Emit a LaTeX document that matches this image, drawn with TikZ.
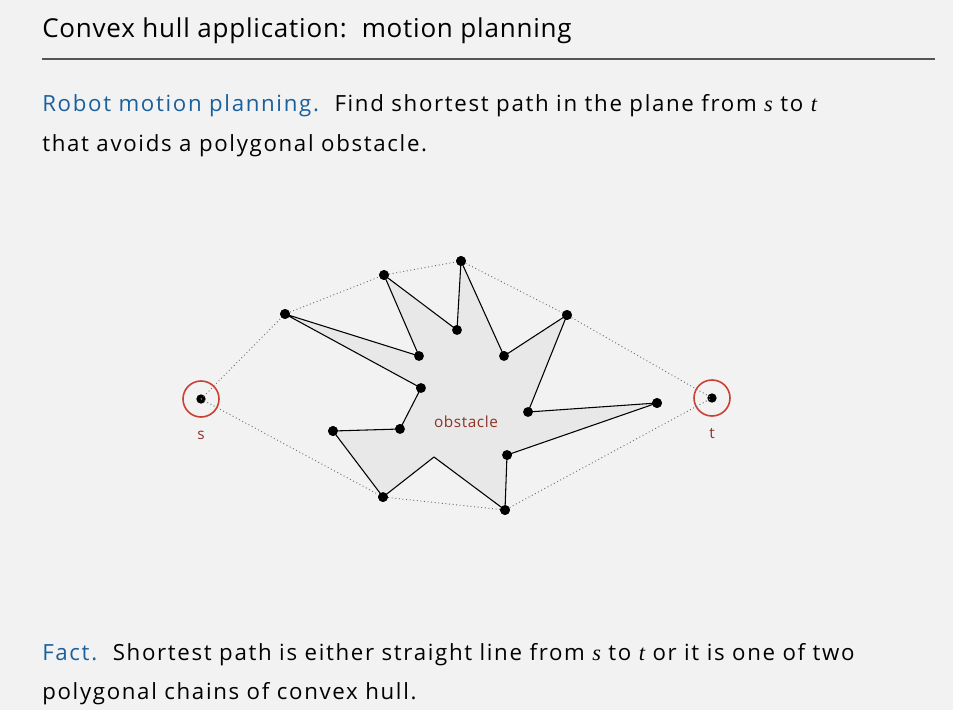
\documentclass[tikz,border=0pt]{standalone}
\usepackage{fontspec}
\setmainfont{Open Sans}[LetterSpace=7.5]
\newfontfamily\titlefont{Open Sans}[LetterSpace=3]
\newfontfamily\labelfont{Open Sans}[LetterSpace=4]
\newfontfamily\mathital{Liberation Serif}
\usetikzlibrary{positioning}
\definecolor{bggray}{RGB}{242,242,242}
\definecolor{obsfill}{RGB}{232,232,232}
\definecolor{keyblue}{RGB}{24,96,158}
\definecolor{labelred}{RGB}{140,52,40}
\definecolor{ringred}{RGB}{204,64,52}
\definecolor{rulegray}{RGB}{85,85,85}
\definecolor{hullgray}{RGB}{110,110,110}
\newcommand{\vs}{{\mathital\itshape s}}
\newcommand{\vt}{{\mathital\itshape t}}
\newcommand{\gap}{\hspace{0.7em}}
\tikzset{
vertex/.style={circle,fill=black,inner sep=0pt,minimum size=7.4pt},
endpt/.style={circle,draw=ringred,line width=1.2pt,inner sep=0pt,minimum size=27pt},
edge/.style={draw=black,line width=0.8pt,line join=round},
hull/.style={draw=hullgray,dotted,line width=0.7pt},
ptlabel/.style={font=\labelfont\fontsize{11.5}{13}\selectfont,text=labelred},
textline/.style={anchor=base west,inner sep=0pt,font=\fontsize{16.7}{19}\selectfont}
}
\begin{document}
\begin{tikzpicture}[x=0.75pt,y=-0.75pt]
\useasboundingbox[fill=bggray] (0,0) rectangle (953,710);

% heading
\node[anchor=base west,inner sep=0pt,font=\titlefont\fontsize{19.5}{23}\selectfont] (title) at (42,38) {Convex hull application:\ \ motion planning};
\coordinate (ruleL) at (42,59);
\coordinate (ruleR) at (935,59);
\draw[rulegray,line width=1pt] (ruleL) -- (ruleR);

\node[textline] (intro1) at (42,112) {\textcolor{keyblue}{Robot motion planning.}\gap Find shortest path in the plane from \vs{} to \vt};
\node[textline] (intro2) at (42,151) {that avoids a polygonal obstacle.};

% obstacle vertices
\node[vertex] (A) at (285,314) {};
\node[vertex] (p1) at (419,356) {};
\node[vertex] (B) at (384,275) {};
\node[vertex] (p2) at (457,330) {};
\node[vertex] (C) at (461,261) {};
\node[vertex] (p3) at (504,356) {};
\node[vertex] (D) at (567,315) {};
\node[vertex] (p4) at (528,412) {};
\node[vertex] (E) at (657,403) {};
\node[vertex] (p5) at (507,455) {};
\node[vertex] (F) at (505,510) {};
\coordinate (notch) at (434,457);
\node[vertex] (G) at (383,497) {};
\node[vertex] (p6) at (333,431) {};
\node[vertex] (p7) at (400,429) {};
\node[vertex] (p8) at (421,388) {};

\fill[obsfill] (A.center) -- (p1.center) -- (B.center) -- (p2.center) -- (C.center) -- (p3.center) -- (D.center) -- (p4.center) -- (E.center) -- (p5.center) -- (F.center) -- (notch) -- (G.center) -- (p6.center) -- (p7.center) -- (p8.center) -- cycle;
\draw[edge] (A.center) -- (p1.center) -- (B.center) -- (p2.center) -- (C.center) -- (p3.center) -- (D.center) -- (p4.center) -- (E.center) -- (p5.center) -- (F.center) -- (notch) -- (G.center) -- (p6.center) -- (p7.center) -- (p8.center) -- cycle;
\foreach \v in {A,p1,B,p2,C,p3,D,p4,E,p5,F,G,p6,p7,p8}{\node[vertex] at (\v) {};}

\node[ptlabel] (obs) at (466,422) {obstacle};

% start and goal
\node[vertex,minimum size=7pt] (s) at (201,399) {};
\node[vertex,minimum size=7pt] (t) at (712,398) {};
\node[endpt] (sring) at (s) {};
\node[endpt] (tring) at (t) {};
\node[ptlabel] (slabel) at (201,435) {s};
\node[ptlabel] (tlabel) at (712,434) {t};

% convex hull chains
\draw[hull] (s.center) -- (A) -- (B) -- (C) -- (D) -- (t.center);
\draw[hull] (s.center) -- (G) -- (F) -- (t.center);

\node[textline] (fact1) at (42,660) {\textcolor{keyblue}{Fact.}\gap Shortest path is either straight line from \vs{} to \vt{} or it is one of two};
\node[textline] (fact2) at (42,699) {polygonal chains of convex hull.};
\end{tikzpicture}
\end{document}
